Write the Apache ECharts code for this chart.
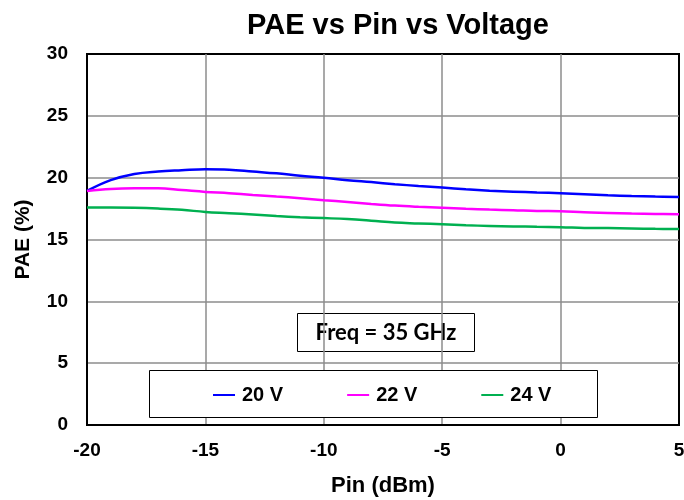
<!DOCTYPE html>
<html>
<head>
<meta charset="utf-8">
<script src="https://cdn.jsdelivr.net/npm/echarts@6/dist/echarts.min.js"></script>
<style>
  html, body { margin: 0; padding: 0; background: #fff; }
  #chart { width: 684px; height: 500px; }
</style>
</head>
<body>
<div id="chart"></div>
<script>
// Input power sweep (dBm)
const pin = [-20, -19, -18, -17, -16, -15, -14, -13, -12, -11, -10, -9, -8, -7, -6, -5, -4, -3, -2, -1, 0, 1, 2, 3, 4, 5];

// PAE (%) at each drain voltage
const pae20V = [18.93, 19.8, 20.3, 20.5, 20.6, 20.68, 20.65, 20.5, 20.35, 20.16, 20.0, 19.8, 19.64, 19.47, 19.33, 19.2, 19.06, 18.95, 18.87, 18.8, 18.74, 18.66, 18.58, 18.52, 18.47, 18.44];
const pae22V = [18.93, 19.09, 19.14, 19.14, 19.0, 18.85, 18.74, 18.6, 18.47, 18.34, 18.18, 18.04, 17.88, 17.74, 17.64, 17.56, 17.48, 17.42, 17.37, 17.31, 17.29, 17.2, 17.15, 17.1, 17.07, 17.05];
const pae24V = [17.58, 17.58, 17.56, 17.5, 17.4, 17.23, 17.13, 17.02, 16.9, 16.8, 16.73, 16.65, 16.52, 16.37, 16.3, 16.23, 16.15, 16.1, 16.06, 16.03, 16.0, 15.94, 15.92, 15.89, 15.86, 15.84];

const seriesNames = ['20 V', '22 V', '24 V'];
const seriesColors = ['#0000ff', '#ff00ff', '#00b050'];
const seriesData = [pae20V, pae22V, pae24V];

const chart = echarts.init(document.getElementById('chart'));
const font = 'Liberation Sans, Arial, sans-serif';
const gridLine = { show: true, showMinLine: false, showMaxLine: false, lineStyle: { color: '#8c8c8c', width: 1.5 } };

chart.setOption({
  animation: false,
  backgroundColor: '#fff',
  title: {
    text: 'PAE vs Pin vs Voltage',
    left: 393, top: 6, textAlign: 'center',
    textStyle: { fontFamily: font, fontWeight: 'bold', fontSize: 29, color: '#000' }
  },
  grid: {
    left: 87, right: 5, top: 54, bottom: 75,
    outerBoundsMode: 'none', containLabel: false,
    show: true, borderColor: '#000', borderWidth: 2
  },
  xAxis: {
    type: 'value', min: -20, max: 5, interval: 5,
    name: 'Pin (dBm)', nameLocation: 'middle', nameGap: 50,
    nameTextStyle: { fontFamily: font, fontWeight: 'bold', fontSize: 22, color: '#000' },
    axisLine: { show: true, onZero: false, lineStyle: { color: '#000', width: 2 } },
    axisTick: { show: false },
    axisLabel: { fontFamily: font, fontWeight: 'bold', fontSize: 19, color: '#000', margin: 16 },
    splitLine: gridLine
  },
  yAxis: {
    type: 'value', min: 0, max: 30, interval: 5,
    name: 'PAE (%)', nameLocation: 'middle', nameGap: 53, nameRotate: 90,
    nameTextStyle: { fontFamily: font, fontWeight: 'bold', fontSize: 21, color: '#000' },
    axisLine: { show: true, onZero: false, lineStyle: { color: '#000', width: 2 } },
    axisTick: { show: false },
    axisLabel: { fontFamily: font, fontWeight: 'bold', fontSize: 19, color: '#000', margin: 19 },
    splitLine: gridLine
  },
  legend: {
    left: 213, top: 385, padding: 0,
    itemWidth: 22, itemHeight: 2, itemGap: 64,
    icon: 'rect',
    textStyle: { fontFamily: font, fontWeight: 'bold', fontSize: 20, color: '#000', padding: [0, 0, 0, 2] },
    data: seriesNames,
    z: 10
  },
  graphic: [
    {
      type: 'rect', z: 5,
      shape: { x: 149.5, y: 370.5, width: 448, height: 47 },
      style: { fill: '#fff', stroke: '#000', lineWidth: 1 }
    },
    {
      type: 'group', z: 5,
      children: [
        {
          type: 'rect',
          shape: { x: 297.5, y: 313.5, width: 177, height: 38 },
          style: { fill: '#fff', stroke: '#000', lineWidth: 1 }
        },
        {
          type: 'text',
          x: 386, y: 333,
          style: {
            text: 'Freq = 35 GHz', fill: '#000',
            font: 'bold 22px Lato, "Open Sans", sans-serif',
            textAlign: 'center', textVerticalAlign: 'middle'
          }
        }
      ]
    }
  ],
  series: seriesNames.map((name, i) => ({
    name: name,
    type: 'line',
    smooth: 0.4,
    showSymbol: false,
    symbol: 'none',
    data: pin.map((x, j) => [x, seriesData[i][j]]),
    lineStyle: { color: seriesColors[i], width: 2.5 },
    itemStyle: { color: seriesColors[i] },
    z: 3
  }))
});
</script>
</body>
</html>
